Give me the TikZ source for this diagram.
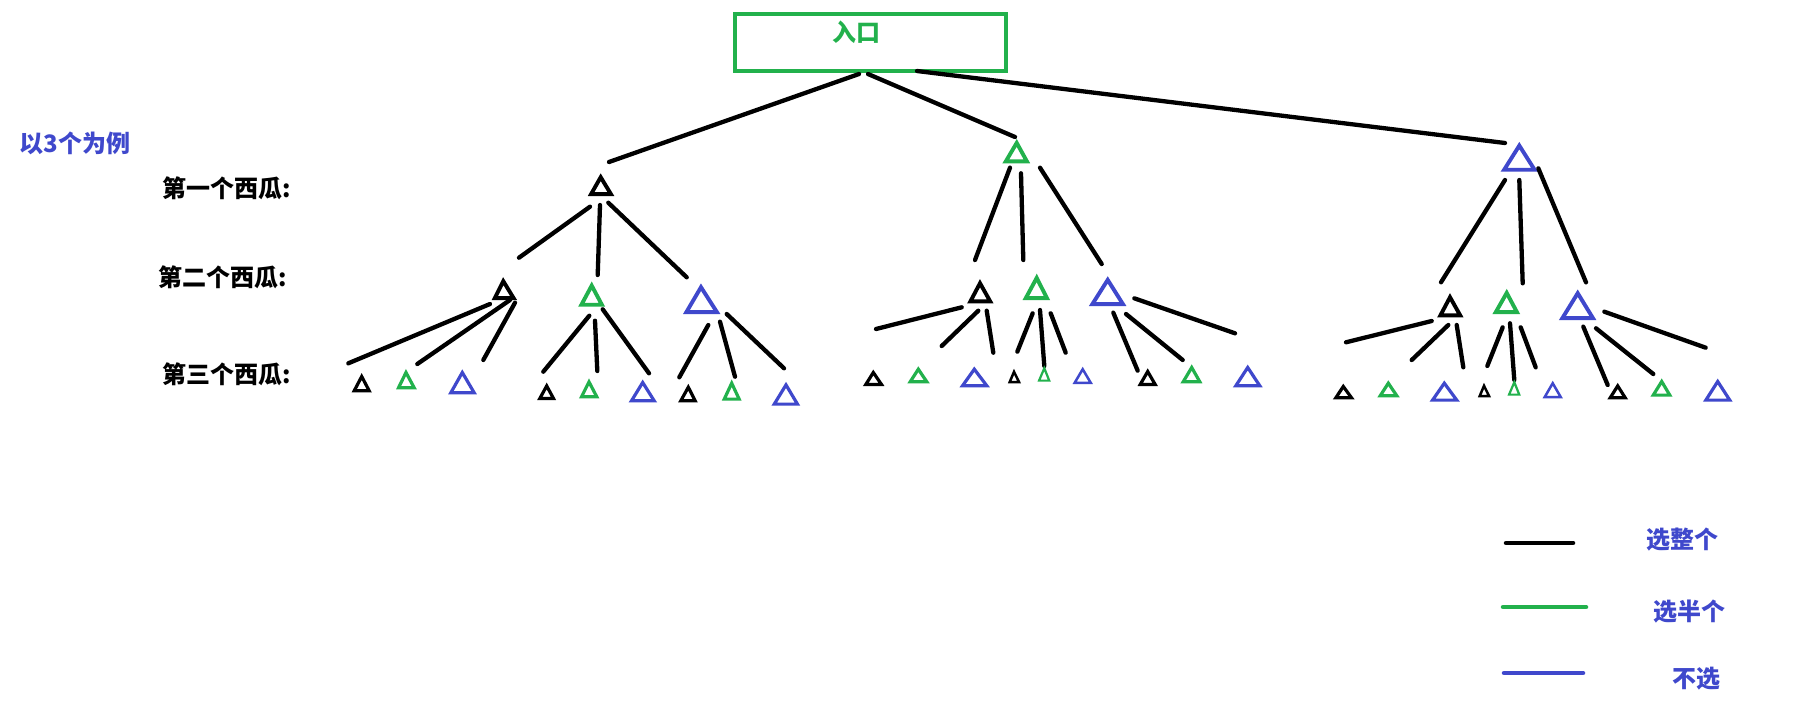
\documentclass[tikz,border=0pt]{standalone}
\usepackage{fontspec}
\newfontfamily\cjk{Noto Sans CJK SC}
\definecolor{pgreen}{HTML}{22B14C}
\definecolor{pblue}{HTML}{3F48CC}
\newcommand\tri[7]{\draw[#1,line width=#2pt,line join=miter] ({#3},{#4+#2}) -- ({#6-0.8*#2},{#7-0.5*#2}) -- ({#5+0.8*#2},{#7-0.5*#2}) -- cycle;}
\tikzset{
  ln/.style={line width=4.3pt,line cap=round,black},
  lab/.style={font=\cjk\bfseries\fontsize{24pt}{24pt}\selectfont,inner sep=0pt,anchor=center},
  leg/.style={line width=4.5pt,line cap=round}
}
\begin{document}
\begin{tikzpicture}[x=1pt,y=-1pt]
\useasboundingbox (0,0) rectangle (1810,702);
\fill[white] (0,0) rectangle (1810,702);
% entry box
\draw[pgreen,line width=4.2pt] (735,14) rectangle (1006,71);
\node[lab,text=pgreen] (entry) at (856,32.5) {入口};
% labels
\node[lab,text=pblue] (ex) at (75,143) {以3个为例};
\node[lab] (lv1) at (226.5,188) {第一个西瓜:};
\node[lab] (lv2) at (222.5,277.5) {第二个西瓜:};
\node[lab] (lv3) at (226.5,374) {第三个西瓜:};
% top lines
\draw[ln] (859,74) -- (609,162);
\draw[ln] (868,74) -- (1015,137);
\draw[ln] (917,71) -- (1505,143);
% level 1 triangles
\tri{black}{3.9}{600.7}{173.3}{588}{614}{196}
\tri{pgreen}{3.9}{1016.7}{139}{1002.7}{1030}{163.3}
\tri{pblue}{3.9}{1519.3}{141.7}{1501}{1537.7}{171.7}
% left subtree lines
\draw[ln] (590,206.7) -- (519,257.7);
\draw[ln] (600,205) -- (597.7,275);
\draw[ln] (608.3,202.7) -- (686.7,277.3);
\draw[ln] (490,304) -- (348.3,363.3);
\draw[ln] (510,300) -- (417.3,364);
\draw[ln] (515,302.7) -- (483.3,360);
\draw[ln] (589.3,315.7) -- (543.3,371.7);
\draw[ln] (595,320.7) -- (597.3,371);
\draw[ln] (602.7,309.3) -- (649,373.3);
\draw[ln] (708.3,325) -- (679.3,377.3);
\draw[ln] (720,321.7) -- (735,376.7);
\draw[ln] (726.7,314) -- (784,368.3);
% middle subtree lines
\draw[ln] (1010,167.7) -- (975,260);
\draw[ln] (1021,173.3) -- (1023.3,260);
\draw[ln] (1040,167.7) -- (1101.7,264);
\draw[ln] (961.7,307.3) -- (876,329);
\draw[ln] (978.3,310.7) -- (941.7,346);
\draw[ln] (986.7,310.7) -- (993.3,352.7);
\draw[ln] (1032.7,313.3) -- (1017.3,351.7);
\draw[ln] (1040,310) -- (1044.3,366);
\draw[ln] (1050.7,313.3) -- (1065.7,352.7);
\draw[ln] (1113.3,312.7) -- (1137.7,370.7);
\draw[ln] (1126,314) -- (1182.7,360);
\draw[ln] (1134.3,298.3) -- (1235,333.3);
% right subtree lines
\draw[ln] (1505,180) -- (1441,282.3);
\draw[ln] (1519.3,180) -- (1522.7,283.3);
\draw[ln] (1538.3,168.3) -- (1586,282.3);
\draw[ln] (1431.7,321) -- (1346,342.3);
\draw[ln] (1448.3,325) -- (1411.7,360);
\draw[ln] (1456.7,325) -- (1463.3,367.3);
\draw[ln] (1502.7,327.3) -- (1487.3,366);
\draw[ln] (1510,323.3) -- (1514.3,380);
\draw[ln] (1520.7,327.3) -- (1535.7,367.3);
\draw[ln] (1583.3,326.7) -- (1607.7,385);
\draw[ln] (1596,328.3) -- (1653.3,374);
\draw[ln] (1604.3,311.7) -- (1705.7,347.7);
% level 2 triangles
\tri{black}{3.9}{503.3}{277.3}{491.7}{516.7}{300}
\tri{pgreen}{3.9}{591.7}{281.7}{578.3}{605}{306.7}
\tri{pblue}{3.9}{701}{283.3}{683.3}{720}{314}
\tri{black}{3.9}{980}{279.3}{967.3}{993.3}{303.3}
\tri{pgreen}{3.9}{1036.7}{274}{1022.7}{1050}{300}
\tri{pblue}{3.9}{1107.7}{276}{1089.3}{1126}{306}
\tri{black}{3.9}{1450}{293.3}{1437.3}{1463.3}{317.3}
\tri{pgreen}{3.9}{1506.7}{289}{1492.7}{1520}{314}
\tri{pblue}{3.9}{1577.7}{289.3}{1559.3}{1596}{320}
% level 3 triangles, left
\tri{black}{3.2}{361.7}{373.3}{351.7}{371.7}{392.3}
\tri{pgreen}{3.2}{406}{369.3}{396}{416.7}{389.3}
\tri{pblue}{3.2}{462.3}{369.3}{448.3}{476.7}{394.3}
\tri{black}{3.2}{546.7}{382.7}{537.3}{556}{400}
\tri{pgreen}{3.2}{589}{378.7}{579}{599.3}{398.3}
\tri{pblue}{3.2}{642.7}{379.3}{629}{656.7}{402.3}
\tri{black}{3.2}{688.3}{384}{678.3}{697.7}{402.3}
\tri{pgreen}{3.2}{731.7}{380}{721.7}{741.7}{400.7}
\tri{pblue}{3.2}{786}{381.7}{771.7}{800}{405.7}
% level 3 triangles, middle
\tri{black}{3.2}{873.3}{369.3}{863.3}{884}{386}
\tri{pgreen}{3.2}{918.3}{366}{907.7}{929.3}{383.3}
\tri{pblue}{3.2}{974.3}{366}{960}{989.3}{387.3}
\tri{black}{2.5}{1014}{369.3}{1007.7}{1021}{383.3}
\tri{pgreen}{2.2}{1044.3}{366}{1037.3}{1051}{381.7}
\tri{pblue}{2.5}{1082.7}{366.7}{1072.7}{1092.7}{384}
\tri{black}{3.2}{1147.7}{368.3}{1137.7}{1157.7}{386}
\tri{pgreen}{3.2}{1191.7}{364.3}{1180.7}{1202.3}{383.3}
\tri{pblue}{3.2}{1247.7}{364.3}{1233.3}{1262.3}{387.3}
% level 3 triangles, right
\tri{black}{3.2}{1343.3}{383.3}{1333.3}{1354}{399.3}
\tri{pgreen}{3.2}{1388.3}{380}{1377.7}{1399.3}{397.3}
\tri{pblue}{3.2}{1444.3}{380}{1430}{1459.3}{401.7}
\tri{black}{2.5}{1484}{383.3}{1477.7}{1491}{397.3}
\tri{pgreen}{2.2}{1514.3}{380}{1507.3}{1521}{395.7}
\tri{pblue}{2.5}{1552.7}{380.7}{1542.7}{1562.7}{398.3}
\tri{black}{3.2}{1617.7}{382.7}{1607.7}{1627.7}{399.3}
\tri{pgreen}{3.2}{1661.7}{378.3}{1650.7}{1672.3}{396.7}
\tri{pblue}{3.2}{1717.7}{378.3}{1703.3}{1732.3}{401.7}
% legend
\coordinate (k1a) at (1506,543); \coordinate (k1b) at (1573,543);
\coordinate (k2a) at (1503,607); \coordinate (k2b) at (1586,607);
\coordinate (k3a) at (1504,673); \coordinate (k3b) at (1583,673);
\draw[leg,black] (k1a) -- (k1b);
\draw[leg,pgreen] (k2a) -- (k2b);
\draw[leg,pblue] (k3a) -- (k3b);
\node[lab,text=pblue] (t1) at (1682,539.5) {选整个};
\node[lab,text=pblue] (t2) at (1689,611.5) {选半个};
\node[lab,text=pblue] (t3) at (1696,679) {不选};
\end{tikzpicture}
\end{document}
